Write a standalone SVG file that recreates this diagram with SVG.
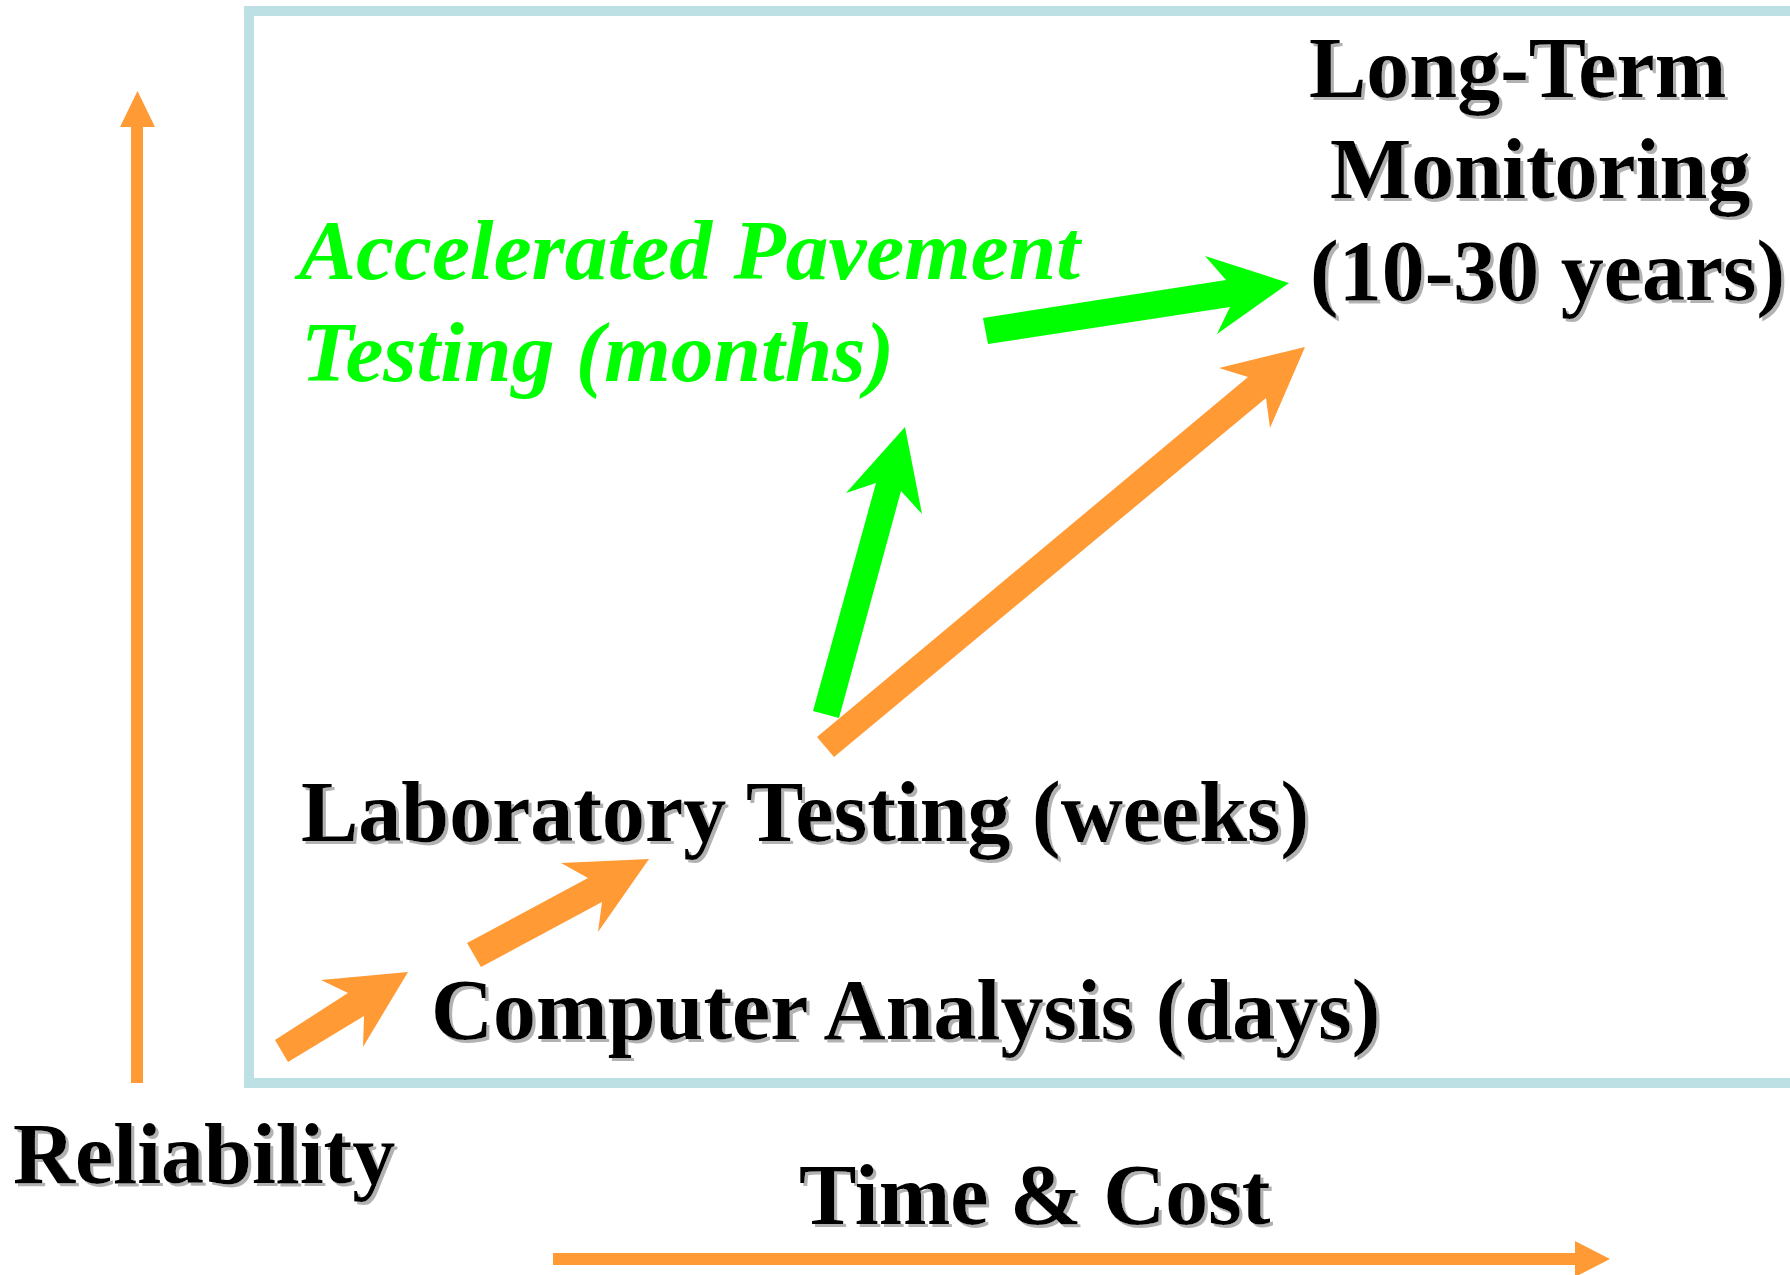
<svg xmlns="http://www.w3.org/2000/svg" width="1790" height="1275" viewBox="0 0 1790 1275">
<defs>
<filter id="sh" x="-5%" y="-5%" width="110%" height="120%">
<feDropShadow dx="3" dy="3" stdDeviation="0" flood-color="#b2b2b2" flood-opacity="1"/>
</filter>
<style>
.t{font-family:"Liberation Serif","Times New Roman",serif;font-weight:bold;font-size:86px;fill:#000;filter:url(#sh)}
.g{font-family:"Liberation Serif","Times New Roman",serif;font-weight:bold;font-style:italic;font-size:85.5px;fill:#00ff00}
.or{fill:#ff9a35}
.gr{fill:#00ff00}
</style>
</defs>
<rect x="0" y="0" width="1790" height="1275" fill="#fff"/>
<g id="frame">
<rect x="249" y="11" width="1600" height="1072" fill="none" stroke="#bce0e3" stroke-width="10"/>
</g>
<g id="axes">
<rect class="or" x="131" y="125" width="12" height="958"/>
<polygon class="or" points="120,127 137.5,91 155,127"/>
<rect class="or" x="553" y="1253" width="1024" height="12"/>
<polygon class="or" points="1575,1241 1610,1259 1575,1277"/>
</g>
<g id="node-reliability"><text class="t" x="13" y="1183">Reliability</text></g>
<g id="node-time-cost"><text class="t" x="799" y="1224">Time &amp; Cost</text></g>
<g id="node-computer"><text class="t" x="431" y="1039">Computer Analysis (days)</text></g>
<g id="node-lab"><text class="t" x="301" y="841">Laboratory Testing (weeks)</text></g>
<g id="node-apt">
<text class="g" x="299" y="279">Accelerated Pavement</text>
<text class="g" x="301" y="381">Testing (months)</text>
</g>
<g id="node-ltm">
<text class="t" x="1309" y="97">Long-Term</text>
<text class="t" x="1330" y="198">Monitoring</text>
<text class="t" x="1310" y="300">(10-30 years)</text>
</g>
<g id="connectors">
<polygon class="or" points="275,1040 348,993 321,980 408,972 363,1047 364,1016 288,1062"/>
<polygon class="or" points="467,943 588,878 561,863 649,859 598,932 602,902 481,967"/>
<polygon class="or" points="817,737 1248,377 1219,368 1305,347 1270,428 1266,398 834,757"/>
<polygon class="gr" points="813,711 876,483 846,493 905,427 922,514 901,491 839,718"/>
<polygon class="gr" points="983,318 1226,280 1205,256 1289,283 1217,334 1230,307 988,344"/>
</g>
</svg>
